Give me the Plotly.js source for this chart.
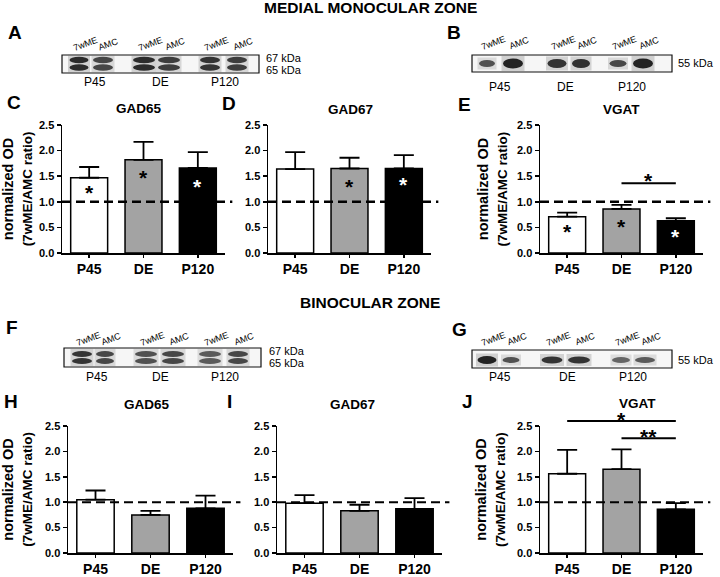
<!DOCTYPE html>
<html><head><meta charset="utf-8">
<script src="https://cdn.plot.ly/plotly-3.0.1.min.js"></script>
<style>html,body{margin:0;padding:0;background:#fff}#chart{width:720px;height:577px}</style>
</head><body><div id="chart"></div>
<script>
// ---------------- DATA ----------------
const groups = ['P45', 'DE', 'P120'];
const yTicks = [0, 0.5, 1.0, 1.5, 2.0, 2.5];
const refLevel = 1.0;
// Medial monocular zone (mean, upper SEM)
const gad65Mono = [1.47, 1.82, 1.66];
const gad65MonoErr = [0.21, 0.35, 0.31];
const gad67Mono = [1.64, 1.65, 1.65];
const gad67MonoErr = [0.33, 0.21, 0.26];
const vgatMono = [0.71, 0.86, 0.63];
const vgatMonoErr = [0.08, 0.08, 0.05];
// Binocular zone
const gad65Bino = [1.05, 0.75, 0.88];
const gad65BinoErr = [0.18, 0.08, 0.25];
const gad67Bino = [0.98, 0.83, 0.87];
const gad67BinoErr = [0.16, 0.12, 0.21];
const vgatBino = [1.56, 1.65, 0.86];
const vgatBinoErr = [0.47, 0.39, 0.12];
// in-bar significance asterisks (value level), null = none
const gad65MonoStars = [1.28, 1.57, 1.39];
const gad67MonoStars = [null, 1.40, 1.43];
const vgatMonoStars = [0.52, 0.61, 0.42];
// comparison brackets
const vgatMonoBrackets = [{from: 1, to: 2, level: 1.36, label: '*', labelLevel: 1.52}];
const vgatBinoBrackets = [
  {from: 0, to: 2, level: 2.60, label: '*', labelLevel: 2.73},
  {from: 1, to: 2, level: 2.26, label: '**', labelLevel: 2.40}
];
const laneNames = ['7wME', 'AMC'];
const blotGroups = ['P45', 'DE', 'P120'];

// ---------------- STYLE / GEOMETRY ----------------
const FONT = '"Liberation Sans", Arial, Helvetica, sans-serif';
const W = 720, H = 577;
const px = x => x / W;
const py = y => 1 - y / H;
const barColors = ['#ffffff', '#a3a3a3', '#000000'];
const YMAX = 2.5;

const panels = [
  {vals: gad65Mono, errs: gad65MonoErr, stars: gad65MonoStars, brackets: [], title: 'GAD65', letter: 'C',
   dom: [62, 225, 125, 253], ytitle: true, standoff: 6, letterPos: [14, 102], titlePos: [139, 109], dashW: 2.5},
  {vals: gad67Mono, errs: gad67MonoErr, stars: gad67MonoStars, brackets: [], title: 'GAD67', letter: 'D',
   dom: [268, 431, 125, 253], ytitle: false, letterPos: [229, 103], titlePos: [350, 110], dashW: 2.5},
  {vals: vgatMono, errs: vgatMonoErr, stars: vgatMonoStars, brackets: vgatMonoBrackets, title: 'VGAT', letter: 'E',
   dom: [540, 703, 125, 253], ytitle: true, standoff: 6, letterPos: [464, 104], titlePos: [621, 110], dashW: 2.5},
  {vals: gad65Bino, errs: gad65BinoErr, stars: null, brackets: [], title: 'GAD65', letter: 'H',
   dom: [68, 233, 426, 553], ytitle: true, standoff: 16, letterPos: [11, 401], titlePos: [147, 404], dashW: 2},
  {vals: gad67Bino, errs: gad67BinoErr, stars: null, brackets: [], title: 'GAD67', letter: 'I',
   dom: [277, 442, 426, 553], ytitle: false, letterPos: [230, 401], titlePos: [352, 404], dashW: 2},
  {vals: vgatBino, errs: vgatBinoErr, stars: null, brackets: vgatBinoBrackets, title: 'VGAT', letter: 'J',
   dom: [540, 703, 426, 553], ytitle: true, standoff: 8, letterPos: [467, 401], titlePos: [637, 403], dashW: 2}
];

const blots = [
  {letter: 'A', letterPos: [15, 33], box: [62, 259, 55, 73], doublet: true, bandY: [60, 67.5], bandH: 6.5,
   bands: [[79, 19], [103, 20], [144, 22], [169, 22], [210, 20], [237, 20]],
   shade: [0.95, 0.8, 0.95, 0.85, 0.9, 0.85], labelY: 44, groupX: [95, 160, 225], groupY: 82,
   kda: [['67 kDa', 58], ['65 kDa', 70]], kdaX: 264},
  {letter: 'B', letterPos: [454, 33], box: [472, 672, 55, 72], doublet: false, bandY: [63.5], bandH: [7, 10, 9, 9, 7, 10],
   bands: [[487, 16], [513, 20], [557, 19], [581, 18], [618, 17], [643, 20]],
   shade: [0.75, 1, 0.9, 0.92, 0.8, 1], labelY: 43, groupX: [500, 565, 632], groupY: 87,
   kda: [['55 kDa', 63]], kdaX: 676},
  {letter: 'F', letterPos: [12, 327], box: [64, 261, 348, 367], doublet: true, bandY: [354, 361], bandH: 6,
   bands: [[82, 20], [105, 18], [146, 22], [173, 22], [210, 22], [238, 20]],
   shade: [0.9, 0.8, 0.75, 0.8, 0.7, 0.8], labelY: 339, groupX: [97, 160, 225], groupY: 377,
   kda: [['67 kDa', 351], ['65 kDa', 363]], kdaX: 267},
  {letter: 'G', letterPos: [460, 329], box: [472, 672, 350, 368], doublet: false, bandY: [360], bandH: [8, 6, 7, 7, 6, 6],
   bands: [[487, 19], [511, 17], [552, 21], [579, 22], [621, 18], [645, 20]],
   shade: [1, 0.75, 0.9, 0.9, 0.65, 0.7], labelY: 339, groupX: [500, 567, 633], groupY: 377,
   kda: [['55 kDa', 360]], kdaX: 676}
];

// ---------------- BUILD ----------------
const traces = [];
const layout = {
  width: W, height: H, margin: {l: 0, r: 0, t: 0, b: 0, pad: 0},
  paper_bgcolor: '#ffffff', plot_bgcolor: 'rgba(0,0,0,0)', showlegend: false,
  font: {family: FONT, color: '#000'}, shapes: [], annotations: []
};

function txt(text, x, y, size, opts) {
  layout.annotations.push(Object.assign({
    text: text, xref: 'paper', yref: 'paper', x: px(x), y: py(y), showarrow: false,
    xanchor: 'center', yanchor: 'middle', font: {family: FONT, size: size, color: '#000'}
  }, opts || {}));
}

panels.forEach((p, i) => {
  const n = i === 0 ? '' : String(i + 1);
  const xa = 'x' + n, ya = 'y' + n;
  traces.push({
    type: 'bar', x: groups, y: p.vals, xaxis: xa, yaxis: ya, width: 0.68,
    marker: {color: barColors, line: {color: '#000', width: 1.5}},
    error_y: {type: 'data', symmetric: false, array: p.errs, arrayminus: p.errs.map(() => 0),
              color: '#000', thickness: 1.8, width: 10},
    hoverinfo: 'skip'
  });
  layout['xaxis' + n] = {
    domain: [px(p.dom[0]), px(p.dom[1])], anchor: ya, type: 'category', range: [-0.5, 2.5],
    showline: true, linecolor: '#000', linewidth: 1.5, ticks: 'outside', ticklen: 3, tickwidth: 1.5, tickcolor: '#000',
    tickfont: {family: FONT, size: 14, weight: 'bold', color: '#000'}, showgrid: false, zeroline: false, fixedrange: true
  };
  layout['yaxis' + n] = {
    domain: [py(p.dom[3]), py(p.dom[2])], anchor: xa, range: [0, YMAX],
    tickvals: yTicks, ticktext: yTicks.map(v => v.toFixed(1)),
    showline: true, linecolor: '#000', linewidth: 1.5, ticks: 'outside', ticklen: 4, tickwidth: 1.5, tickcolor: '#000',
    tickfont: {family: FONT, size: 11, weight: 'bold', color: '#000'}, showgrid: false, zeroline: false, fixedrange: true,
    title: p.ytitle ? {text: 'normalized OD<br><span style="font-size:13.5px">(7wME/AMC ratio)</span>',
                       font: {family: FONT, size: 14.5, weight: 'bold', color: '#000'}, standoff: p.standoff} : {text: ''}
  };
  // reference line
  layout.shapes.push({type: 'line', xref: xa + ' domain', yref: ya, x0: 0, x1: 1.045, y0: refLevel, y1: refLevel,
    line: {color: '#000', width: p.dashW, dash: '9px,5px'}, layer: 'above'});
  // in-bar stars
  if (p.stars) p.stars.forEach((s, k) => {
    if (s === null) return;
    layout.annotations.push({text: '<b>*</b>', xref: xa, yref: ya, x: groups[k], y: s, yshift: -5, showarrow: false,
      xanchor: 'center', yanchor: 'middle',
      font: {family: FONT, size: 21, color: k === 2 ? '#fff' : '#000'}});
  });
  // brackets
  p.brackets.forEach(b => {
    layout.shapes.push({type: 'line', xref: xa, yref: ya + ' domain', x0: b.from, x1: b.to,
      y0: b.level / YMAX, y1: b.level / YMAX, line: {color: '#000', width: 2}});
    layout.annotations.push({text: '<b>' + b.label + '</b>', xref: xa, yref: ya + ' domain',
      x: (b.from + b.to) / 2, y: b.labelLevel / YMAX, yshift: -5, showarrow: false,
      xanchor: 'center', yanchor: 'middle',
      font: {family: FONT, size: 21, color: '#000'}});
  });
  txt('<b>' + p.title + '</b>', p.titlePos[0], p.titlePos[1], 13.5);
  txt('<b>' + p.letter + '</b>', p.letterPos[0], p.letterPos[1], 19);
});

// zone titles
txt('<b>MEDIAL MONOCULAR ZONE</b>', 371, 8, 15.5);
txt('<b>BINOCULAR ZONE</b>', 370, 302, 15.5);

// western blots (illustrative)
blots.forEach(b => {
  txt('<b>' + b.letter + '</b>', b.letterPos[0], b.letterPos[1], 19);
  layout.shapes.push({type: 'rect', xref: 'paper', yref: 'paper', x0: px(b.box[0]), x1: px(b.box[1]),
    y0: py(b.box[2]), y1: py(b.box[3]), fillcolor: '#f6f6f6', line: {color: '#111', width: 1.2}});
  b.bands.forEach((bd, k) => {
    const cx = bd[0], w = bd[1], s = b.shade[k];
    const hh = Array.isArray(b.bandH) ? b.bandH[k] : b.bandH;
    const yTop = b.bandY[0] - hh / 2 - 2.5, yBot = b.bandY[b.bandY.length - 1] + hh / 2 + 2.5;
    layout.shapes.push({type: 'rect', xref: 'paper', yref: 'paper', x0: px(cx - w / 2 - 1.5), x1: px(cx + w / 2 + 1.5),
      y0: py(yTop), y1: py(yBot), fillcolor: 'rgba(120,120,120,' + (0.3 * s) + ')', line: {width: 0}});
    b.bandY.forEach(yc => {
      layout.shapes.push({type: 'circle', xref: 'paper', yref: 'paper', x0: px(cx - w / 2), x1: px(cx + w / 2),
        y0: py(yc - hh / 2), y1: py(yc + hh / 2), fillcolor: 'rgba(15,15,15,' + (0.9 * s) + ')', line: {width: 0}});
    });
    layout.annotations.push({text: laneNames[k % 2], xref: 'paper', yref: 'paper', x: px(cx + 6), y: py(b.labelY),
      showarrow: false, textangle: -20, xanchor: 'center', yanchor: 'middle',
      font: {family: FONT, size: 9, color: '#000'}});
  });
  b.groupX.forEach((gx, k) => txt(blotGroups[k], gx, b.groupY, 12));
  b.kda.forEach(kd => txt(kd[0], b.kdaX, kd[1], 11, {xanchor: 'left'}));
});

Plotly.newPlot('chart', traces, layout, {staticPlot: true, displayModeBar: false});
</script>
</body></html>
